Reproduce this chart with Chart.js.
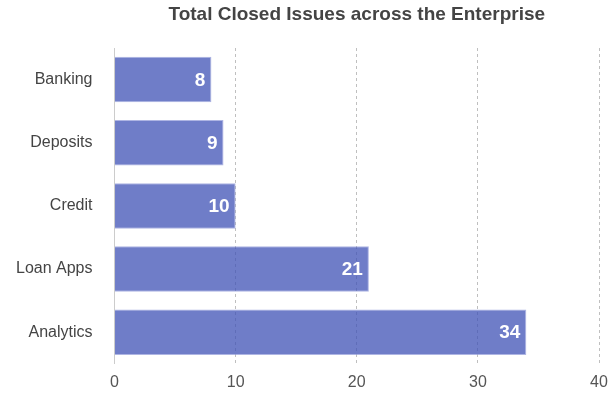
<!DOCTYPE html>
<html lang="en">
<head>
  <meta charset="UTF-8">
  <title>Total Closed Issues</title>
  <script src="https://cdn.jsdelivr.net/npm/chart.js"></script>
  <style>
    body { margin: 0; background: #fff; }
    #wrap { width: 613px; height: 396px; }
  </style>
</head>
<body>
  <div id="wrap"><canvas id="issuesChart"></canvas></div>

  <script>
    const chartTitle = "Total Closed Issues across the Enterprise";
    const teams = ["Banking", "Deposits", "Credit", "Loan Apps", "Analytics"];
    const closedIssues = [8, 9, 10, 21, 34];
    const xTicks = [0, 10, 20, 30, 40];

    const FONT = "'Liberation Sans', Arial, sans-serif";

    // title centred over the plot area, not the whole canvas
    const plotTitle = {
      id: "plotTitle",
      afterDraw(chart) {
        const ctx = chart.ctx;
        const area = chart.chartArea;
        ctx.save();
        ctx.fillStyle = "#444";
        ctx.font = "bold 19px " + FONT;
        ctx.textAlign = "center";
        ctx.textBaseline = "middle";
        ctx.fillText(chartTitle, (area.left + area.right) / 2, 15);
        ctx.restore();
      }
    };

    // white value labels at the end of each bar
    const barValues = {
      id: "barValues",
      afterDatasetsDraw(chart) {
        const ctx = chart.ctx;
        const meta = chart.getDatasetMeta(0);
        ctx.save();
        ctx.fillStyle = "#fff";
        ctx.font = "bold 19px " + FONT;
        ctx.textAlign = "right";
        ctx.textBaseline = "middle";
        meta.data.forEach((bar, i) => {
          ctx.fillText(closedIssues[i], bar.x - 6, bar.y + 1);
        });
        ctx.restore();
      }
    };

    new Chart(document.getElementById("issuesChart"), {
      type: "bar",
      data: {
        labels: teams,
        datasets: [{
          data: closedIssues,
          backgroundColor: "rgba(63,81,181,0.75)",
          borderColor: "rgba(140,150,215,0.7)",
          borderWidth: 1
        }]
      },
      options: {
        indexAxis: "y",
        responsive: true,
        maintainAspectRatio: false,
        animation: false,
        layout: { padding: { left: 2, right: 14, top: 48, bottom: -5 } },
        plugins: {
          legend: { display: false },
          tooltip: { enabled: false },
          title: { display: false }
        },
        scales: {
          x: {
            min: xTicks[0],
            max: xTicks[xTicks.length - 1],
            afterBuildTicks(axis) { axis.ticks = xTicks.map(v => ({ value: v })); },
            afterFit(axis) { axis.paddingRight = 0; },
            grid: { color: "rgba(0,0,0,0.25)", drawTicks: false },
            border: { display: false, dash: [3, 3] },
            ticks: {
              color: "#555",
              padding: 9,
              font: { family: FONT, size: 16 }
            }
          },
          y: {
            grid: { display: false },
            border: { display: true, color: "#ccc" },
            ticks: {
              color: "#444",
              padding: 14,
              font: { family: FONT, size: 16 }
            }
          }
        }
      },
      plugins: [barValues, plotTitle]
    });
  </script>
</body>
</html>
